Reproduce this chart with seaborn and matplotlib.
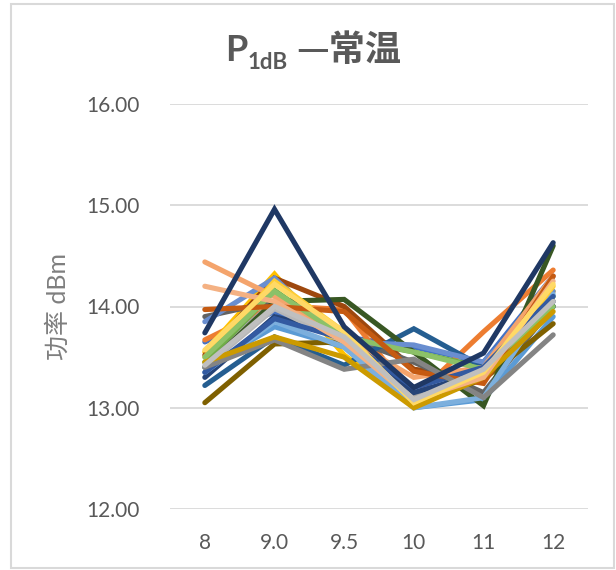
import matplotlib
matplotlib.use("Agg")
import matplotlib.pyplot as plt
from matplotlib.patches import Rectangle
import seaborn as sns
import pandas as pd

# Frequency points (GHz) along the category axis
freqs = ["8", "9.0", "9.5", "10", "11", "12"]

# P1dB at room temperature, one list per unit (dBm)
u01 = [13.65, 13.95, 13.70, 13.60, 13.45, 14.30]
u02 = [13.67, 14.01, 13.97, 13.10, 13.75, 14.36]
u03 = [13.45, 14.05, 13.72, 13.10, 13.38, 14.05]
u04 = [13.55, 14.32, 13.52, 13.02, 13.35, 14.15]
u05 = [13.40, 13.80, 13.60, 13.00, 13.08, 13.90]
u06 = [13.45, 14.16, 13.68, 13.55, 13.40, 14.10]
u07 = [13.30, 13.90, 13.72, 13.15, 13.35, 14.05]
u08 = [13.52, 14.28, 14.00, 13.38, 13.30, 14.00]
u09 = [13.90, 14.05, 13.70, 13.45, 13.15, 14.00]
u10 = [13.05, 13.63, 13.65, 13.05, 13.28, 13.83]
u11 = [13.22, 13.70, 13.42, 13.78, 13.40, 14.00]
u12 = [13.40, 14.05, 14.07, 13.55, 13.02, 14.60]
u13 = [13.85, 14.28, 13.65, 13.62, 13.45, 14.15]
u14 = [14.44, 14.10, 13.70, 13.30, 13.40, 14.30]
u15 = [13.40, 13.98, 13.65, 13.05, 13.40, 14.05]
u16 = [13.50, 14.25, 13.75, 13.05, 13.30, 14.20]
u17 = [13.35, 13.85, 13.60, 13.00, 13.10, 14.12]
u18 = [13.50, 14.15, 13.70, 13.55, 13.38, 14.00]
u19 = [13.35, 13.88, 13.68, 13.20, 13.40, 14.10]
u20 = [13.97, 14.00, 13.95, 13.36, 13.24, 14.30]
u21 = [13.40, 13.67, 13.38, 13.48, 13.10, 13.72]
u22 = [13.45, 13.70, 13.50, 13.00, 13.30, 13.95]
u23 = [14.20, 14.05, 13.65, 13.08, 13.30, 14.25]
u24 = [13.57, 14.22, 13.75, 13.05, 13.35, 14.22]
u25 = [13.74, 14.96, 13.80, 13.20, 13.54, 14.63]
u26 = [13.42, 14.00, 13.70, 13.08, 13.38, 14.05]

units = [u01, u02, u03, u04, u05, u06, u07, u08, u09, u10, u11, u12, u13,
         u14, u15, u16, u17, u18, u19, u20, u21, u22, u23, u24, u25, u26]

colors = ["#4472C4", "#ED7D31", "#A5A5A5", "#FFC000", "#5B9BD5", "#70AD47",
          "#264478", "#9E480E", "#636363", "#7F6000", "#255E91", "#385723",
          "#698ED0", "#F4A46C", "#B7B7B7", "#FFCD33", "#7CAFDD", "#8CC168",
          "#335AA1", "#C55A11", "#848484", "#CC9A00", "#F4B183", "#FFD966",
          "#1F3864", "#BFBFBF"]

names = [f"#{i + 1}" for i in range(len(units))]
rows = []
for name, vals in zip(names, units):
    for f, v in zip(freqs, vals):
        rows.append({"unit": name, "freq": f, "p1db": v})
df = pd.DataFrame(rows)
df["pos"] = df["freq"].map({f: i for i, f in enumerate(freqs)})

sns.set_theme(style="white")
plt.rcParams["font.family"] = ["Lato", "Noto Sans CJK SC", "DejaVu Sans"]

W, H = 616, 570
fig = plt.figure(figsize=(W / 100, H / 100), dpi=100)
ax = fig.add_axes([170 / W, 1 - 509 / H, 418 / W, 405 / H])

sns.lineplot(data=df, x="pos", y="p1db", hue="unit", palette=dict(zip(names, colors)),
             hue_order=names, sort=False, estimator=None, linewidth=3.7,
             legend=False, ax=ax, solid_capstyle="round", solid_joinstyle="miter")

ax.set_xlim(-0.5, len(freqs) - 0.5)
ax.set_ylim(12, 16)
ax.set_yticks([12, 13, 14, 15, 16])
ax.set_yticklabels([f"{v:.2f}" for v in [12, 13, 14, 15, 16]])
ax.set_xticks(range(len(freqs)))
ax.set_xticklabels(freqs)
ax.yaxis.grid(True, color="#D9D9D9", linewidth=1.3)
ax.set_axisbelow(True)
for s in ax.spines.values():
    s.set_visible(False)
ax.tick_params(axis="both", length=0, colors="#595959", labelsize=15)
ax.tick_params(axis="y", pad=22)
ax.tick_params(axis="x", pad=17)
ax.set_xlabel("")
ax.set_ylabel("功率 dBm", fontsize=18, color="#7F7F7F", labelpad=12)

# chart border
fig.patches.append(Rectangle((11 / W, 2 / H), 603 / W, 564 / H, transform=fig.transFigure,
                             fill=False, edgecolor="#D9D9D9", linewidth=1.5))

# title with subscript, assembled piece by piece
fig.canvas.draw()
renderer = fig.canvas.get_renderer()
title_color = "#595959"
y0 = 1 - 61 / H
pieces = [("P", 26, 0, ["Lato"]), ("1dB", 16, -8 / H, ["Lato"]),
          (" ", 26, 0, ["Lato"]), ("—常温", 26, 0, ["Noto Sans CJK SC", "DejaVu Sans"])]
texts = []
x = 0
for txt, size, dy, fam in pieces:
    t = fig.text(x, y0 + dy, txt, fontsize=size, fontweight="bold", color=title_color,
                 ha="left", va="baseline", family=fam)
    bb = t.get_window_extent(renderer)
    texts.append((t, bb.width / W))
    x += bb.width / W
total = x
start = 313 / W - total / 2
for t, w in texts:
    t.set_x(start)
    start += w

fig.savefig("out.png", dpi=100, facecolor="white")
